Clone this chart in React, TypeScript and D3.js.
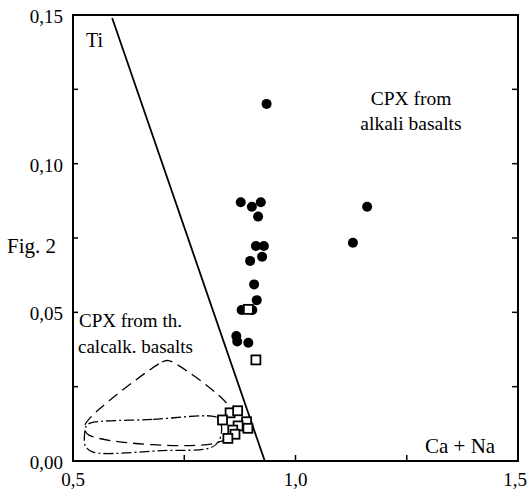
import * as d3 from "d3";

// CPX from alkali basalts (filled circles)
const alkaliPts: [number, number][] = [
  [0.935, 0.1201],
  [0.877, 0.087],
  [0.902, 0.0855],
  [0.922, 0.087],
  [0.916, 0.0822],
  [0.911, 0.0723],
  [0.929, 0.0723],
  [0.925, 0.0687],
  [0.898, 0.0673],
  [0.907, 0.0594],
  [0.913, 0.0541],
  [0.879, 0.0508],
  [0.903, 0.0508],
  [0.867, 0.042],
  [0.869, 0.0402],
  [0.894, 0.0398],
  [1.161, 0.0855],
  [1.129, 0.0734],
];

// open squares
const calcPts: [number, number][] = [
  [0.894, 0.051],
  [0.911, 0.034],
  [0.853, 0.0162],
  [0.87, 0.0169],
  [0.836, 0.0138],
  [0.89, 0.0132],
  [0.871, 0.0118],
  [0.893, 0.011],
  [0.859, 0.0104],
  [0.864, 0.009],
  [0.848, 0.0076],
];

// dashed field (th. calcalk. basalts)
const dashedField: [number, number][] = [
  [0.545, 0.0155],
  [0.7, 0.0333],
  [0.712, 0.0338],
  [0.725, 0.0332],
  [0.855, 0.0175],
  [0.862, 0.01],
  [0.82, 0.006],
  [0.535, 0.0088],
  [0.526, 0.0115],
];

// dash-dot field
const dashDotField: [number, number][] = [
  [0.54, 0.0128],
  [0.68, 0.014],
  [0.812, 0.0151],
  [0.828, 0.0142],
  [0.834, 0.0112],
  [0.828, 0.0068],
  [0.81, 0.0045],
  [0.7, 0.0035],
  [0.545, 0.003],
  [0.528, 0.005],
  [0.526, 0.009],
  [0.53, 0.0118],
];

const divider: [number, number][] = [
  [0.588, 0.149],
  [0.931, 0],
];

const xTicks = [0.5, 1.0, 1.5];
const xTickLabels = ["0,5", "1,0", "1,5"];
const yTicks = [0, 0.05, 0.1, 0.15];
const yTickLabels = ["0,00", "0,05", "0,10", "0,15"];
const yMinor = [0.025, 0.05, 0.075, 0.1, 0.125];
const xMinor = [0.75, 1.0, 1.25];

const font = "Liberation Serif";

export default function App() {
  const x = d3.scaleLinear().domain([0.5, 1.5]).range([73, 518]);
  const y = d3.scaleLinear().domain([0, 0.15]).range([461, 15]);

  const line = d3
    .line<[number, number]>()
    .x((d) => x(d[0]))
    .y((d) => y(d[1]));
  const closed = d3
    .line<[number, number]>()
    .x((d) => x(d[0]))
    .y((d) => y(d[1]))
    .curve(d3.curveCatmullRomClosed.alpha(0.5));

  const txt = { fontFamily: font, fill: "#000" };

  return (
    <svg
      width={532}
      height={499}
      style={{ position: "absolute", left: 0, top: 0, background: "#fff" }}
    >
      {/* fields */}
      <path
        d={closed(dashedField) ?? ""}
        fill="none"
        stroke="#000"
        strokeWidth={1.3}
        strokeDasharray="11 6"
      />
      <path
        d={closed(dashDotField) ?? ""}
        fill="none"
        stroke="#000"
        strokeWidth={1.3}
        strokeDasharray="10 3 2 3"
      />

      {/* discriminant line */}
      <path d={line(divider) ?? ""} fill="none" stroke="#000" strokeWidth={1.8} />

      {/* frame */}
      <rect
        x={x(0.5)}
        y={y(0.15)}
        width={x(1.5) - x(0.5)}
        height={y(0) - y(0.15)}
        fill="none"
        stroke="#000"
        strokeWidth={2}
      />
      {yMinor.map((t) => (
        <g key={"ym" + t}>
          <line x1={x(0.5)} x2={x(0.5) + 5} y1={y(t)} y2={y(t)} stroke="#000" strokeWidth={1.5} />
          <line x1={x(1.5)} x2={x(1.5) - 6} y1={y(t)} y2={y(t)} stroke="#000" strokeWidth={1.5} />
        </g>
      ))}
      {xMinor.map((t) => (
        <line key={"xm" + t} x1={x(t)} x2={x(t)} y1={y(0)} y2={y(0) - 6} stroke="#000" strokeWidth={1.5} />
      ))}

      {/* tick labels */}
      {yTicks.map((t, i) => (
        <text key={"yl" + t} x={63} y={y(t) + 8} textAnchor="end" fontSize={19} style={txt}>
          {yTickLabels[i]}
        </text>
      ))}
      {xTicks.map((t, i) => (
        <text key={"xl" + t} x={x(t) - (i === 2 ? 3 : 0)} y={486} textAnchor="middle" fontSize={19} style={txt}>
          {xTickLabels[i]}
        </text>
      ))}

      {/* points */}
      {alkaliPts.map((d, i) => (
        <circle key={"a" + i} cx={x(d[0])} cy={y(d[1])} r={5} fill="#000" />
      ))}
      {calcPts.map((d, i) => (
        <rect
          key={"c" + i}
          x={x(d[0]) - 4.5}
          y={y(d[1]) - 4.5}
          width={9}
          height={9}
          fill="#fff"
          stroke="#000"
          strokeWidth={1.8}
        />
      ))}

      {/* annotations */}
      <text x={86} y={47} fontSize={20} style={txt}>Ti</text>
      <text x={425} y={453} fontSize={21} style={txt}>Ca + Na</text>
      <text x={7} y={253} fontSize={21} style={txt}>Fig. 2</text>
      <text x={411} y={105} fontSize={19.5} textAnchor="middle" style={txt}>CPX from</text>
      <text x={411} y={130} fontSize={19.5} textAnchor="middle" style={txt}>alkali basalts</text>
      <text x={79} y={327} fontSize={19} style={txt}>CPX from th.</text>
      <text x={78} y={353} fontSize={19} style={txt}>calcalk. basalts</text>
    </svg>
  );
}
